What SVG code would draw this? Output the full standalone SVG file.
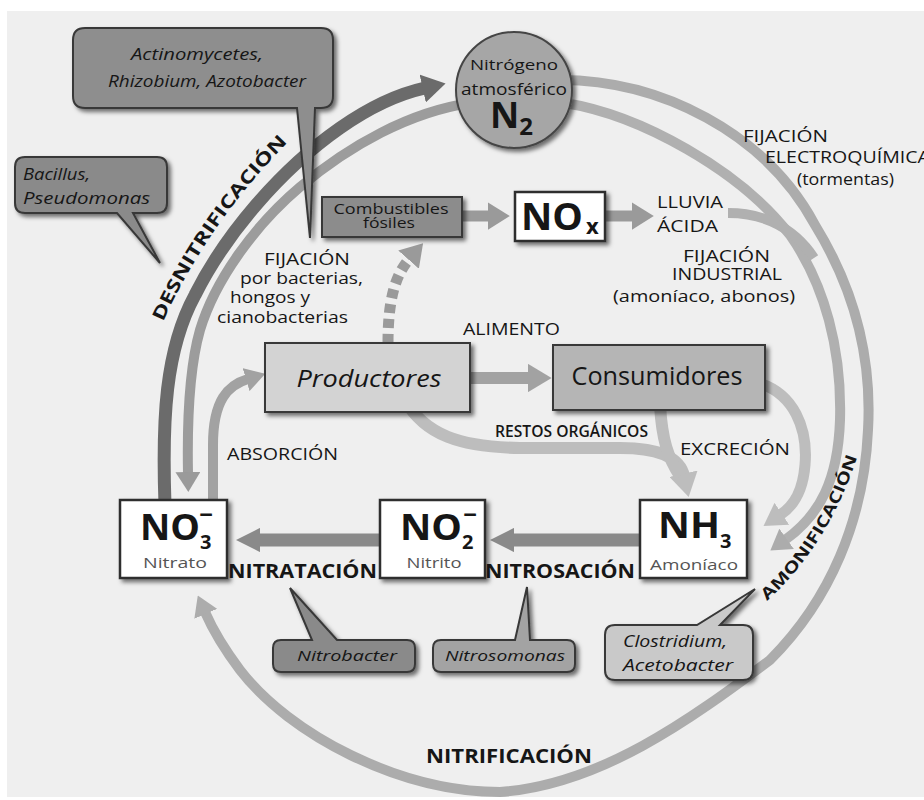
<svg xmlns="http://www.w3.org/2000/svg" width="924" height="800" viewBox="0 0 924 800">
<defs>
<style>
.t{font-family:"Open Sans","Liberation Sans",sans-serif;fill:#161616}
.b{font-weight:700}
.i{font-style:italic}
.box{stroke:#383838;stroke-width:2}
.chem{fill:#ffffff;stroke:#2e2e2e;stroke-width:2.5}
.sub{fill:#555555}
</style>
<filter id="sh" x="-20%" y="-20%" width="150%" height="160%">
<feDropShadow dx="3" dy="3" stdDeviation="2" flood-color="#000000" flood-opacity="0.55"/>
</filter>
<marker id="mDark" viewBox="0 0 10 12" preserveAspectRatio="none" refX="1" refY="6" markerWidth="1.8" markerHeight="2.2" orient="auto"><path d="M0,0 L10,6 L0,12 z" fill="#6b6b6b"/></marker>
<marker id="mMid" viewBox="0 0 10 12" preserveAspectRatio="none" refX="1" refY="6" markerWidth="2" markerHeight="2.5" orient="auto"><path d="M0,0 L10,6 L0,12 z" fill="#9a9a9a"/></marker>
<marker id="mLight" viewBox="0 0 10 12" preserveAspectRatio="none" refX="1" refY="6" markerWidth="2" markerHeight="2.5" orient="auto"><path d="M0,0 L10,6 L0,12 z" fill="#acacac"/></marker>
<marker id="mPale" viewBox="0 0 10 12" preserveAspectRatio="none" refX="1" refY="6" markerWidth="2" markerHeight="2.4" orient="auto"><path d="M0,0 L10,6 L0,12 z" fill="#bdbdbd"/></marker>
<marker id="mProd" viewBox="0 0 10 12" preserveAspectRatio="none" refX="1" refY="6" markerWidth="2" markerHeight="2.4" orient="auto"><path d="M0,0 L10,6 L0,12 z" fill="#a2a2a2"/></marker>
<marker id="mBox" viewBox="0 0 10 12" preserveAspectRatio="none" refX="1" refY="6" markerWidth="1.9" markerHeight="1.9" orient="auto"><path d="M0,0 L10,6 L0,12 z" fill="#8a8a8a"/></marker>
<path id="pDes" d="M163,322 Q208,222 292,138"/>
<path id="pAmo" d="M767,601 Q831,543 860,448"/>
</defs>

<rect width="924" height="800" fill="#ffffff"/>
<rect x="7" y="11" width="917" height="786" fill="#efefef"/>

<g id="connectors" fill="none">
<path d="M560,80 C660,80 765,132 815,225 C855,290 872,360 868,430 C864,520 830,600 770,660 C690,720 600,785 500,792 C400,792 290,735 240,670 C225,650 212,628 205,612" stroke="#acacac" stroke-width="10" marker-end="url(#mLight)"/>
<path d="M565,103 C640,115 740,170 790,235 C825,285 842,350 840,420 C838,480 820,515 785,540" stroke="#b0b0b0" stroke-width="10" marker-end="url(#mLight)"/>
<path d="M728,213 C760,213 792,225 814,258" stroke="#b0b0b0" stroke-width="10"/>
<path d="M755,382 C795,392 808,430 805,465 C803,490 795,505 780,515" stroke="#bdbdbd" stroke-width="11" marker-end="url(#mPale)"/>
<path d="M405,400 C425,435 460,447 520,448 L620,448 C660,448 680,458 684,476" stroke="#bdbdbd" stroke-width="12" marker-end="url(#mPale)"/>
<path d="M660,405 C662,440 668,458 680,476" stroke="#bdbdbd" stroke-width="12"/>
<path d="M213,505 L213,445 C213,400 228,385 248,379" stroke="#a2a2a2" stroke-width="10" marker-end="url(#mProd)"/>
<path d="M165,505 C162,420 165,350 195,295 C225,235 280,170 340,128 C370,107 398,94 425,88" stroke="#6b6b6b" stroke-width="13" marker-end="url(#mDark)"/>
<path d="M470,103 C410,112 350,145 300,187 C255,225 215,280 200,330 C190,365 187,420 188,474" stroke="#9c9c9c" stroke-width="10" marker-end="url(#mMid)"/>
<path d="M388,343 C388,300 395,275 410,258" stroke="#9a9a9a" stroke-width="11" stroke-dasharray="9 6" marker-end="url(#mMid)"/>
<path d="M462,216 L490,216" stroke="#9a9a9a" stroke-width="11" marker-end="url(#mMid)"/>
<path d="M605,216 L634,216" stroke="#9a9a9a" stroke-width="11" marker-end="url(#mMid)"/>
<path d="M470,378 L530,378" stroke="#a2a2a2" stroke-width="12" marker-end="url(#mProd)"/>
<path d="M640,540 L512,540" stroke="#8a8a8a" stroke-width="13" marker-end="url(#mBox)"/>
<path d="M380,540 L258,540" stroke="#8a8a8a" stroke-width="13" marker-end="url(#mBox)"/>
</g>

<g id="n2">
<circle cx="514" cy="90" r="58" fill="#a6a6a6" stroke="#454545" stroke-width="2" filter="url(#sh)"/>
<text class="t" x="514" y="70" font-size="15" text-anchor="middle" fill="#333" textLength="88" lengthAdjust="spacingAndGlyphs">Nitrógeno</text>
<text class="t" x="514" y="95" font-size="16" text-anchor="middle" textLength="106" lengthAdjust="spacingAndGlyphs">atmosférico</text>
<text class="t b" x="490" y="128" font-size="36">N<tspan font-size="24" dy="7">2</tspan></text>
</g>

<g id="actinomycetes">
<path class="box" d="M85,28 H321 Q333,28 333,40 V96 Q333,108 321,108 H315 L310,238 L297,108 H85 Q73,108 73,96 V40 Q73,28 85,28 Z" fill="#8e8e8e" filter="url(#sh)"/>
<text class="t i" x="197" y="60" font-size="16" text-anchor="middle" fill="#262626" textLength="132" lengthAdjust="spacingAndGlyphs">Actinomycetes,</text>
<text class="t i" x="207" y="87" font-size="16" text-anchor="middle" fill="#262626" textLength="198" lengthAdjust="spacingAndGlyphs">Rhizobium, Azotobacter</text>
</g>

<g id="bacillus">
<path class="box" d="M25,157 H157 Q167,157 167,167 V203 Q167,213 157,213 H133 L160,263 L117,213 H25 Q15,213 15,203 V167 Q15,157 25,157 Z" fill="#8a8a8a" filter="url(#sh)"/>
<text class="t i" x="23" y="180" font-size="16" fill="#262626" textLength="67" lengthAdjust="spacingAndGlyphs">Bacillus,</text>
<text class="t i" x="23" y="204" font-size="16" fill="#262626" textLength="127" lengthAdjust="spacingAndGlyphs">Pseudomonas</text>
</g>

<g id="combustibles">
<rect class="box" x="322" y="197" width="140" height="40" fill="#8c8c8c" filter="url(#sh)"/>
<text class="t" x="391" y="214" font-size="14" text-anchor="middle" textLength="115" lengthAdjust="spacingAndGlyphs">Combustibles</text>
<text class="t" x="389" y="228" font-size="14" text-anchor="middle" textLength="52" lengthAdjust="spacingAndGlyphs">fósiles</text>
</g>

<g id="nox">
<rect class="chem" x="515" y="192" width="90" height="49" filter="url(#sh)"/>
<text class="t b" x="521" y="230" font-size="38" textLength="62" lengthAdjust="spacingAndGlyphs">NO</text>
<text class="t b" x="586" y="234" font-size="22">x</text>
</g>

<g id="productores">
<rect class="box" x="265" y="343" width="205" height="69" fill="#d3d3d3" filter="url(#sh)"/>
<text class="t i" x="369" y="387" font-size="24" text-anchor="middle" fill="#333" textLength="145" lengthAdjust="spacingAndGlyphs">Productores</text>
</g>

<g id="consumidores">
<rect class="box" x="553" y="345" width="212" height="65" fill="#b5b5b5" filter="url(#sh)"/>
<text class="t" x="657" y="385" font-size="26" text-anchor="middle" fill="#2a2a2a" textLength="171" lengthAdjust="spacingAndGlyphs">Consumidores</text>
</g>

<g id="no3">
<rect class="chem" x="120" y="500" width="107" height="78" filter="url(#sh)"/>
<text class="t b" x="140" y="540" font-size="35" textLength="60" lengthAdjust="spacingAndGlyphs">NO</text>
<text class="t b" x="200" y="549" font-size="20">3</text>
<text class="t b" x="206" y="523" font-size="24" text-anchor="middle">−</text>
<text class="t sub" x="175" y="568" font-size="14" text-anchor="middle" textLength="64" lengthAdjust="spacingAndGlyphs">Nitrato</text>
</g>

<g id="no2">
<rect class="chem" x="380" y="500" width="105" height="78" filter="url(#sh)"/>
<text class="t b" x="400" y="540" font-size="35" textLength="62" lengthAdjust="spacingAndGlyphs">NO</text>
<text class="t b" x="462" y="549" font-size="20">2</text>
<text class="t b" x="470" y="523" font-size="24" text-anchor="middle">−</text>
<text class="t sub" x="434" y="568" font-size="14" text-anchor="middle" textLength="55" lengthAdjust="spacingAndGlyphs">Nitrito</text>
</g>

<g id="nh3">
<rect class="chem" x="640" y="500" width="107" height="78" filter="url(#sh)"/>
<text class="t b" x="658" y="538" font-size="35" textLength="62" lengthAdjust="spacingAndGlyphs">NH</text>
<text class="t b" x="720" y="548" font-size="20">3</text>
<text class="t sub" x="694" y="570" font-size="14" text-anchor="middle" textLength="88" lengthAdjust="spacingAndGlyphs">Amoníaco</text>
</g>

<g id="nitrobacter">
<path class="box" d="M281,640 H312 L290,588 L337,640 H407 Q415,640 415,648 V664 Q415,672 407,672 H281 Q273,672 273,664 V648 Q273,640 281,640 Z" fill="#8a8a8a" filter="url(#sh)"/>
<text class="t i" x="347" y="661" font-size="15" text-anchor="middle" fill="#262626" textLength="100" lengthAdjust="spacingAndGlyphs">Nitrobacter</text>
</g>

<g id="nitrosomonas">
<path class="box" d="M441,640 H515 L527,587 L530,640 H567 Q575,640 575,648 V664 Q575,672 567,672 H441 Q433,672 433,664 V648 Q433,640 441,640 Z" fill="#a3a3a3" filter="url(#sh)"/>
<text class="t i" x="505" y="661" font-size="15" text-anchor="middle" fill="#262626" textLength="120" lengthAdjust="spacingAndGlyphs">Nitrosomonas</text>
</g>

<g id="clostridium">
<path class="box" d="M615,625 H697 L755,589 L720,625 H743 Q753,625 753,635 V670 Q753,680 743,680 H615 Q605,680 605,670 V635 Q605,625 615,625 Z" fill="#c9c9c9" filter="url(#sh)"/>
<text class="t i" x="623" y="647" font-size="16" fill="#262626" textLength="104" lengthAdjust="spacingAndGlyphs">Clostridium,</text>
<text class="t i" x="623" y="671" font-size="16" fill="#262626" textLength="110" lengthAdjust="spacingAndGlyphs">Acetobacter</text>
</g>

<g id="labels" class="t" font-size="16">
<text x="264" y="265" textLength="86" lengthAdjust="spacingAndGlyphs">FIJACIÓN</text>
<text x="240" y="284" textLength="123" lengthAdjust="spacingAndGlyphs">por bacterias,</text>
<text x="230" y="303" textLength="80" lengthAdjust="spacingAndGlyphs">hongos y</text>
<text x="217" y="323" textLength="131" lengthAdjust="spacingAndGlyphs">cianobacterias</text>
<text x="463" y="335" textLength="97" lengthAdjust="spacingAndGlyphs">ALIMENTO</text>
<text x="495" y="437" font-size="16" font-weight="600" textLength="153" lengthAdjust="spacingAndGlyphs">RESTOS ORGÁNICOS</text>
<text x="680" y="455" textLength="110" lengthAdjust="spacingAndGlyphs">EXCRECIÓN</text>
<text x="227" y="460" textLength="111" lengthAdjust="spacingAndGlyphs">ABSORCIÓN</text>
<text x="743" y="142" textLength="85" lengthAdjust="spacingAndGlyphs">FIJACIÓN</text>
<text x="765" y="163" textLength="165" lengthAdjust="spacingAndGlyphs">ELECTROQUÍMICA</text>
<text x="797" y="185" textLength="97" lengthAdjust="spacingAndGlyphs">(tormentas)</text>
<text x="657" y="208" font-size="17" textLength="66" lengthAdjust="spacingAndGlyphs">LLUVIA</text>
<text x="657" y="232" font-size="17" textLength="61" lengthAdjust="spacingAndGlyphs">ÁCIDA</text>
<text x="683" y="262" textLength="87" lengthAdjust="spacingAndGlyphs">FIJACIÓN</text>
<text x="672" y="280" textLength="110" lengthAdjust="spacingAndGlyphs">INDUSTRIAL</text>
<text x="613" y="302" textLength="182" lengthAdjust="spacingAndGlyphs">(amoníaco, abonos)</text>
<text class="b" x="426" y="763" font-size="19" textLength="166" lengthAdjust="spacingAndGlyphs">NITRIFICACIÓN</text>
<text class="b" x="228" y="578" font-size="19" textLength="149" lengthAdjust="spacingAndGlyphs">NITRATACIÓN</text>
<text class="b" x="485" y="578" font-size="19" textLength="150" lengthAdjust="spacingAndGlyphs">NITROSACIÓN</text>
<text class="b" font-size="18"><textPath href="#pDes" textLength="220" lengthAdjust="spacingAndGlyphs">DESNITRIFICACIÓN</textPath></text>
<text class="b" font-size="16"><textPath href="#pAmo" textLength="172" lengthAdjust="spacingAndGlyphs">AMONIFICACIÓN</textPath></text>
</g>
</svg>
